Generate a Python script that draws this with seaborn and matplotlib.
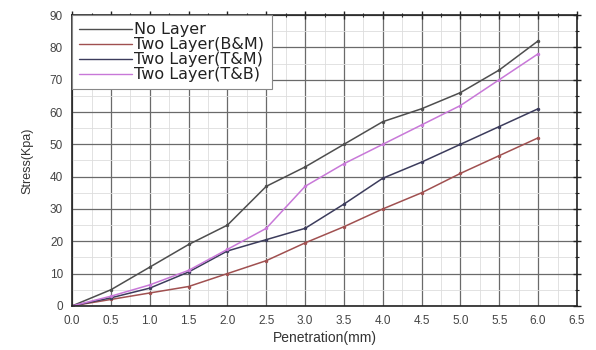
import numpy as np
import pandas as pd
import matplotlib
matplotlib.use("Agg")
import matplotlib.pyplot as plt
import seaborn as sns
from matplotlib.ticker import MultipleLocator

penetration = [0.0, 0.5, 1.0, 1.5, 2.0, 2.5, 3.0, 3.5, 4.0, 4.5, 5.0, 5.5, 6.0]
no_layer = [0, 5, 12, 19, 25, 37, 43, 50, 57, 61, 66, 73, 82]
two_bm = [0, 2, 4, 6, 10, 14, 19.5, 24.5, 30, 35, 41, 46.5, 52]
two_tm = [0, 2.5, 5.5, 10.5, 17, 20.5, 24, 31.5, 39.5, 44.5, 50, 55.5, 61]
two_tb = [0, 3, 6.5, 11, 17.5, 24, 37, 44, 50, 56, 62, 70, 78]

series_names = ["No Layer", "Two Layer(B&M)", "Two Layer(T&M)", "Two Layer(T&B)"]
series_vals = [no_layer, two_bm, two_tm, two_tb]
colors = ["#4e4e4e", "#a05050", "#3c3c5c", "#c878d8"]

df = pd.concat([
    pd.DataFrame({"Penetration": penetration, "Stress": v, "Series": n})
    for n, v in zip(series_names, series_vals)
], ignore_index=True)

sns.set_style("white")
plt.rcParams["font.family"] = ["Liberation Sans", "DejaVu Sans"]

fig = plt.figure(figsize=(5.96, 3.5), dpi=100)
ax = fig.add_axes([0.121, 0.126, 0.847, 0.831])

sns.lineplot(data=df, x="Penetration", y="Stress", hue="Series",
             palette=dict(zip(series_names, colors)), hue_order=series_names,
             marker="o", markersize=2.5, markeredgewidth=0, linewidth=1.1,
             ax=ax, legend=True)

ax.set_xlim(0, 6.5)
ax.set_ylim(0, 90)
ax.xaxis.set_major_locator(MultipleLocator(0.5))
ax.xaxis.set_minor_locator(MultipleLocator(0.25))
ax.yaxis.set_major_locator(MultipleLocator(10))
ax.yaxis.set_minor_locator(MultipleLocator(5))
ax.set_xticklabels([f"{t:.1f}" for t in ax.get_xticks()])

ax.grid(which="major", color="#6a6a6a", linewidth=0.9)
ax.grid(which="minor", color="#dddddd", linewidth=0.6)
ax.set_axisbelow(True)

for s in ax.spines.values():
    s.set_color("#222222")
    s.set_linewidth(1.2)

ax.tick_params(axis="both", which="major", direction="inout", length=6, width=1,
               color="#222222", labelsize=8.5, labelcolor="#444444",
               top=True, right=True)
ax.tick_params(axis="both", which="minor", direction="inout", length=3, width=0.8,
               color="#222222", top=True, right=True)

ax.set_xlabel("Penetration(mm)", fontsize=10, color="#333333", labelpad=3)
ax.set_ylabel("Stress(Kpa)", fontsize=9, color="#333333", labelpad=12)

leg = ax.legend(loc="upper left", borderaxespad=0,
                prop={"family": "DejaVu Sans", "size": 11.5},
                handlelength=3.3, handletextpad=0.15, labelspacing=0.0,
                borderpad=0.45, frameon=True, fancybox=False)
leg.get_frame().set_edgecolor("#888888")
leg.get_frame().set_linewidth(0.8)
leg.get_frame().set_alpha(1)
for h in leg.get_lines():
    h.set_marker("")
    h.set_linewidth(1.0)
for t in leg.get_texts():
    t.set_color("#222222")

fig.savefig("out.png", dpi=100)
